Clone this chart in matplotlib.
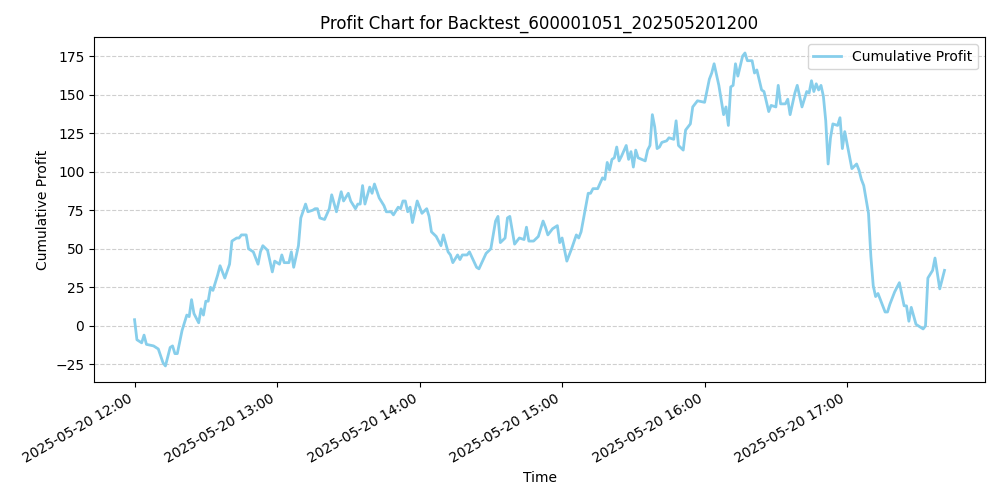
import matplotlib
matplotlib.use("Agg")
import matplotlib.pyplot as plt
import matplotlib.dates as mdates
import pandas as pd

minutes = [0,1,3,4,5,8,10,12,13,15,16,17,18,20,22,23,24,25,27,28,29,30,31,32,33,35,36,38,40,41,43,44,45,47,48,50,52,53,54,56,58,59,61,62,63,65,66,67,69,70,72,73,75,76,77,78,80,82,83,85,87,88,90,91,93,94,95,96,97,99,100,101,103,105,106,108,109,111,112,113,114,115,116,117,119,
           121,123,124,125,127,129,130,132,133,134,136,137,138,140,141,144,145,148,150,152,153,154,156,157,158,160,162,164,165,166,168,170,172,173,174,176,178,179,180,182,184,186,187,188,191,192,193,195,197,198,199,200,201,202,203,204,205,207,208,209,210,211,212,215,216,217,218,219,220,221,222,224,225,227,228,229,231,232,234,235,237,
           240,242,243,244,246,248,249,250,251,252,253,254,256,257,258,260,261,262,264,265,267,268,270,271,272,274,275,276,278,279,281,283,284,285,286,287,288,289,290,291,292,293,294,296,297,298,299,300,302,304,305,306,307,
           309,310,311,312,313,316,317,318,320,322,324,325,326,327,329,330,332,333,334,336,337,339,341]
profit = [4,-9,-11,-6,-12,-13,-15,-24,-26,-14,-13,-18,-18,-3,7,6,17,8,2,11,7,16,16,25,23,33,39,31,40,55,57,57,59,59,50,48,40,48,52,49,35,42,40,46,41,41,48,38,52,70,79,74,75,76,76,70,69,76,85,74,87,81,86,81,76,79,79,91,79,90,86,92,83,78,74,74,72,77,76,81,81,74,77,67,81,
          73,76,71,61,58,52,59,48,46,41,46,43,46,46,48,38,37,47,50,68,71,54,57,70,71,53,57,56,64,55,55,58,68,64,59,63,65,54,57,42,50,59,57,61,86,86,89,89,96,95,106,101,108,109,116,107,110,117,108,113,103,114,109,107,114,117,137,129,115,116,119,120,122,121,133,117,114,127,131,142,146,
          145,160,164,170,156,137,142,130,155,156,170,162,175,177,172,172,164,166,153,152,139,143,142,156,144,144,147,137,151,156,142,152,151,159,152,157,153,156,149,133,105,122,131,130,135,115,126,118,102,105,101,95,91,
          73,45,26,19,21,9,9,14,22,28,13,13,3,12,1,0,-2,0,31,36,44,24,36]

start = pd.Timestamp("2025-05-20 12:00")
times = [start + pd.Timedelta(minutes=m) for m in minutes]

fig, ax = plt.subplots(figsize=(10, 5), dpi=100)
ax.plot(times, profit, color="skyblue", linewidth=2, label="Cumulative Profit")
ax.set_title("Profit Chart for Backtest_600001051_202505201200")
ax.set_xlabel("Time")
ax.set_ylabel("Cumulative Profit")
ax.grid(axis="y", linestyle="--", alpha=0.6)
ax.legend(loc="upper right")
ax.xaxis.set_major_locator(mdates.HourLocator())
ax.xaxis.set_major_formatter(mdates.DateFormatter("%Y-%m-%d %H:%M"))
fig.autofmt_xdate()
fig.tight_layout()
fig.savefig("out.png")
